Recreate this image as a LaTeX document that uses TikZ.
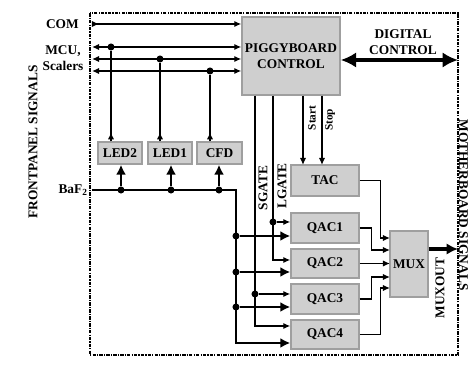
\documentclass[tikz,border=0pt]{standalone}
\usepackage{fontspec}
\setmainfont{Liberation Serif}
\usetikzlibrary{arrows.meta}
\begin{document}
\begin{tikzpicture}[x=0.025cm, y=-0.025cm,
    blk/.style={draw=gray!75, fill=gray!38, line width=1pt, inner sep=0pt, minimum width=1.7cm, minimum height=0.75cm, font=\bfseries\fontsize{9.5}{11.5}\selectfont},
    lbl/.style={inner sep=0pt, font=\bfseries\fontsize{9.5}{11.5}\selectfont},
    sml/.style={inner sep=0pt, font=\bfseries\fontsize{8}{9}\selectfont},
    sig/.style={line width=1.1pt, -{Latex[length=5pt,width=4.5pt]}},
    bus/.style={line width=1.1pt, {Latex[length=5pt,width=4.5pt]}-{Latex[length=5pt,width=4.5pt]}},
    fat/.style={line width=2pt, -{Latex[length=7pt,width=7pt]}},
    jn/.style={circle, fill=black, inner sep=0pt, minimum size=5pt}]
\useasboundingbox (0,0) rectangle (470,366);
\draw[line width=1pt, dash pattern=on 2.5pt off 0.8pt on 0.8pt off 0.8pt] (90,13) rectangle (458,355);

% blocks
\node[blk, minimum width=2.45cm, minimum height=1.95cm, align=center] (pig) at (291,56) {PIGGYBOARD\\CONTROL};
\node[blk, minimum width=1.1cm, minimum height=0.55cm] (led2) at (120,153) {LED2};
\node[blk, minimum width=1.1cm, minimum height=0.55cm] (led1) at (170,153) {LED1};
\node[blk, minimum width=1.125cm, minimum height=0.55cm] (cfd) at (219.5,153) {CFD};
\node[blk, minimum height=0.775cm] (tac) at (325,180.5) {TAC};
\node[blk] (qac1) at (325,228) {QAC1};
\node[blk, minimum height=0.725cm] (qac2) at (325,263.5) {QAC2};
\node[blk] (qac3) at (325,299) {QAC3};
\node[blk, minimum height=0.725cm] (qac4) at (325,334.5) {QAC4};
\node[blk, minimum width=0.95cm, minimum height=1.65cm] (mux) at (409,264) {MUX};

% labels
\node[lbl, anchor=east] (comlbl) at (79,24) {COM};
\node[lbl, align=center] (mculbl) at (63,58) {MCU,\\Scalers};
\node[lbl, anchor=east] (baflbl) at (88,190) {BaF\textsubscript{2}};
\node[lbl, rotate=90] (fplbl) at (33,142) {FRONTPANEL SIGNALS};
\node[lbl, rotate=-90] (mblbl) at (463.5,205) {MOTHERBOARD SIGNALS};
\node[lbl, align=center] (dclbl) at (403,42) {DIGITAL\\CONTROL};
\node[lbl, rotate=90] (molbl) at (440,288) {MUXOUT};
\node[lbl, rotate=90] (sglbl) at (263,188) {SGATE};
\node[lbl, rotate=90] (lglbl) at (282,186) {LGATE};
\node[sml, rotate=90] (stlbl) at (312,118) {Start};
\node[sml, rotate=90] (splbl) at (330,120) {Stop};

% frame ends
\coordinate (com) at (92,24);
\coordinate (mcu1) at (92,47);
\coordinate (mcu2) at (92,59);
\coordinate (mcu3) at (92,71);
\coordinate (baf) at (92,190);
\coordinate (dc) at (458,60);
\coordinate (mo) at (458,249);

% junctions
\node[jn] (j1) at (111,47) {};
\node[jn] (j2) at (160,59) {};
\node[jn] (j3) at (210,71) {};
\node[jn] (b1) at (121,190) {};
\node[jn] (b2) at (171,190) {};
\node[jn] (b3) at (219,190) {};
\node[jn] (v1) at (236,236) {};
\node[jn] (v2) at (236,272) {};
\node[jn] (v3) at (236,307) {};
\node[jn] (g1) at (273,222) {};
\node[jn] (g2) at (255,294) {};
\coordinate (bk) at (236,190);
\coordinate (bend) at (236,343);
\coordinate (sg) at (255,326);
\coordinate (lg) at (273,260);
\coordinate (st) at (303,165);
\coordinate (sp) at (322,165);
\coordinate (m1) at (390,238);
\coordinate (m2) at (390,250);
\coordinate (m3) at (390,263.5);
\coordinate (m4) at (390,277);
\coordinate (m5) at (390,288);

% buses
\draw[line width=1.1pt, {Latex[reversed,length=5pt,width=4.5pt]}-{Latex[length=5pt,width=4.5pt]}] (com) -- (com -| pig.west);
\draw[bus] (mcu1) -- (mcu1 -| pig.west);
\draw[bus] (mcu2) -- (mcu2 -| pig.west);
\draw[bus] (mcu3) -- (mcu3 -| pig.west);
\draw[line width=1.1pt] (j1) -- (led2.north -| j1);
\draw[line width=1.1pt] (j2) -- (led1.north -| j2);
\draw[line width=1.1pt] (j3) -- (cfd.north -| j3);
\draw[sig] (led2.north -| j1) -- ++(0,-9);
\draw[sig] (led1.north -| j2) -- ++(0,-9);
\draw[sig] (cfd.north -| j3) -- ++(0,-9);
\draw[line width=3.2pt, {Latex[length=11pt,width=11pt]}-{Latex[length=11pt,width=11pt]}] (pig.east |- dc) -- (dc);

% BaF2 signal
\draw[fat] (baf) -- (bk) -- (bend) -- (bend -| qac4.west);
\draw[fat] (b1) -- (led2.south -| b1);
\draw[fat] (b2) -- (led1.south -| b2);
\draw[fat] (b3) -- (cfd.south -| b3);
\draw[fat] (v1) -- (v1 -| qac1.west);
\draw[fat] (v2) -- (v2 -| qac2.west);
\draw[fat] (v3) -- (v3 -| qac3.west);

% gates
\draw[sig] (pig.south -| sg) -- (sg) -- (sg -| qac4.west);
\draw[sig] (pig.south -| lg) -- (lg) -- (lg -| qac2.west);
\draw[sig] (g1) -- (g1 -| qac1.west);
\draw[sig] (g2) -- (g2 -| qac3.west);
\draw[sig] (pig.south -| st) -- (st);
\draw[sig] (pig.south -| sp) -- (sp);

% to mux
\draw[sig] (tac.east) -- ++(21,0) |- (m1);
\draw[sig] (qac1.east) -- ++(12,0) |- (m2);
\draw[sig] (qac2.east) -- (m3);
\draw[sig] (qac3.east) -- ++(12,0) |- (m4);
\draw[sig] (qac4.east) -- ++(21,0) |- (m5);
\draw[line width=3pt, -{Latex[length=8pt,width=8pt]}] (mux.east |- mo) -- (mo);
\end{tikzpicture}
\end{document}
